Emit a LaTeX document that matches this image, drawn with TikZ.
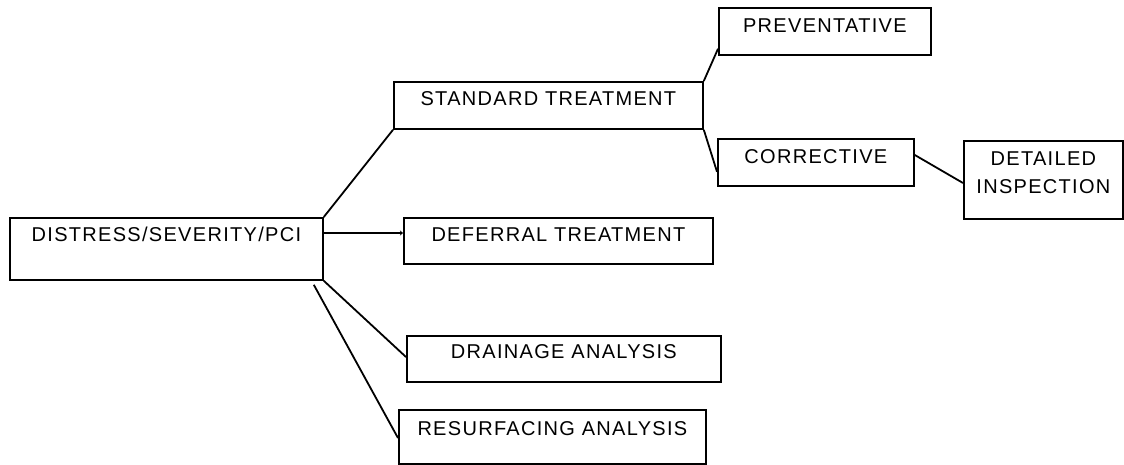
\documentclass[tikz,border=0pt]{standalone}
\usepackage{fontspec}
\setmainfont{Liberation Sans}[LetterSpace=6.5]
\usetikzlibrary{arrows.meta,calc}
\begin{document}
\begin{tikzpicture}[x=1pt,y=-1pt,
  box/.style={draw, line width=1.8pt, inner sep=0pt, anchor=north west,
    font=\fontsize{20}{28}\selectfont},
  link/.style={line width=1.8pt}]
  \useasboundingbox (0,0) rectangle (1124,465);

  % first level
  \node[box, minimum width=313pt, text height=24pt, text depth=38pt] (dist) at (9,217) {DISTRESS/SEVERITY/PCI};

  % second level
  \node[box, minimum width=309pt, text height=24pt, text depth=23pt] (std) at (393,81) {STANDARD TREATMENT};
  \node[box, minimum width=309pt, text height=24pt, text depth=22pt] (def) at (403,217) {DEFERRAL TREATMENT};
  \node[box, minimum width=314pt, text height=23pt, text depth=23pt] (drain) at (406,335) {DRAINAGE ANALYSIS};
  \node[box, minimum width=307pt, text height=26pt, text depth=28pt] (resurf) at (398,409) {RESURFACING ANALYSIS};

  % third level
  \node[box, minimum width=212pt, text height=25pt, text depth=22pt] (prev) at (718,7) {PREVENTATIVE};
  \node[box, minimum width=196pt, text height=25pt, text depth=22pt] (corr) at (717,138) {CORRECTIVE};
  \node[box, minimum width=159pt, text height=25pt, text depth=53pt] (det) at (963,140)
    {\begin{tabular}[t]{@{}c@{}}DETAILED\\INSPECTION\end{tabular}};

  % connectors
  \draw[link] (dist.north east) -- (std.south west);
  \draw[link, -{Stealth[length=3pt,width=5pt]}] ([yshift=-16pt]dist.north east) -- ([yshift=-16pt]def.north west);
  \draw[link] (dist.south east) -- ([yshift=-22pt]drain.north west);
  \draw[link] ([xshift=-10pt,yshift=-4pt]dist.south east) -- ([yshift=-29pt]resurf.north west);
  \draw[link] (std.north east) -- ([yshift=7pt]prev.south west);
  \draw[link] (std.south east) -- ([yshift=15pt]corr.south west);
  \draw[link] ([yshift=-17pt]corr.north east) -- ([yshift=-43pt]det.north west);
\end{tikzpicture}
\end{document}
